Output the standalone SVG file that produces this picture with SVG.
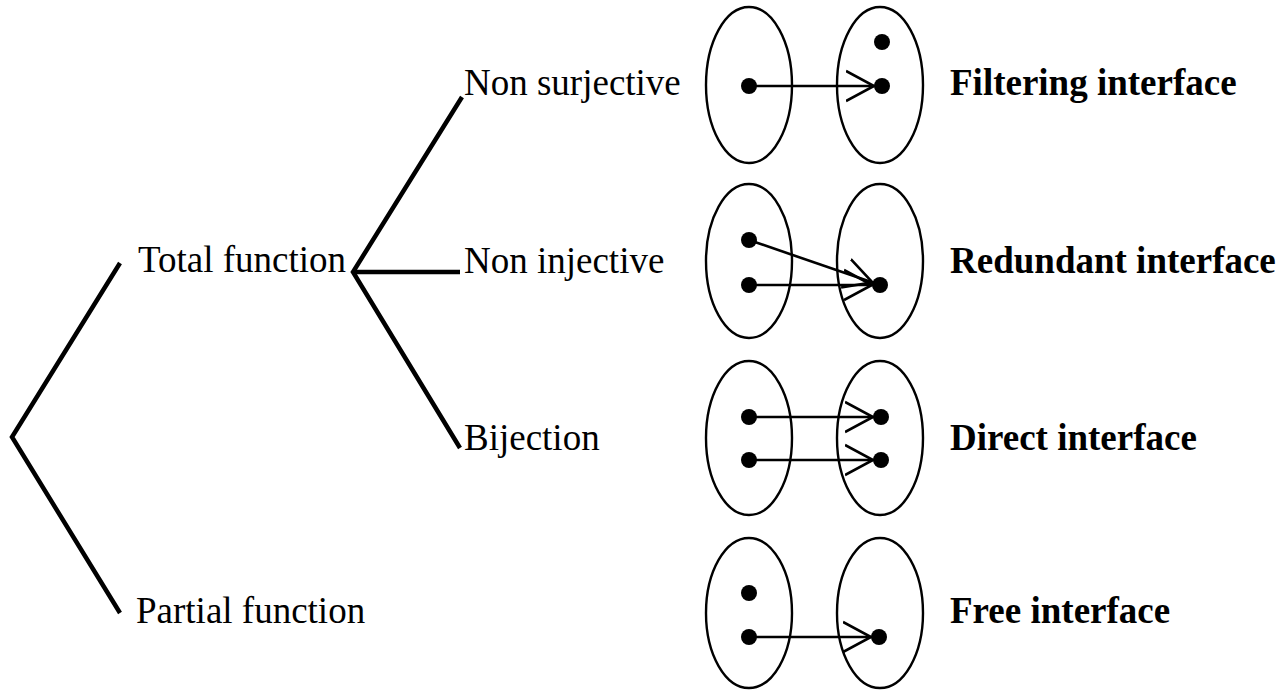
<svg xmlns="http://www.w3.org/2000/svg" width="1287" height="692" viewBox="0 0 1287 692">
  <style>
    .lbl { font-family: "Liberation Serif", "Times New Roman", serif; font-size: 37px; fill: #000; }
    .bold { font-weight: bold; }
    .tree { stroke: #000; stroke-width: 4.5; fill: none; stroke-linecap: butt; stroke-linejoin: miter; }
    .set { stroke: #000; stroke-width: 2.4; fill: none; }
    .map { stroke: #000; stroke-width: 2.6; fill: none; marker-end: url(#chev); }
    .pt { fill: #000; }
  </style>
  <defs>
    <marker id="chev" markerUnits="userSpaceOnUse" markerWidth="42" markerHeight="36" viewBox="0 0 42 36" refX="36" refY="18" orient="auto">
      <path d="M0,3 L28,18 L0,33" fill="none" stroke="#000" stroke-width="2.6"/>
    </marker>
  </defs>
  <rect width="1287" height="692" fill="#fff"/>

  <!-- classification tree -->
  <g id="connectors">
    <path class="tree" d="M120,263 L12,437 L120,613"/>
    <path class="tree" d="M462,97 L353,272 L460,448"/>
    <path class="tree" d="M353,272 L460,272"/>
  </g>

  <g id="total-function"><text class="lbl" x="138" y="272">Total function</text></g>
  <g id="partial-function"><text class="lbl" x="136" y="623">Partial function</text></g>
  <g id="non-surjective"><text class="lbl" x="464" y="95">Non surjective</text></g>
  <g id="non-injective"><text class="lbl" x="464" y="273">Non injective</text></g>
  <g id="bijection"><text class="lbl" x="464" y="450">Bijection</text></g>

  <!-- mapping pictograms -->
  <g id="filtering">
    <ellipse class="set" cx="749" cy="85" rx="43" ry="78"/>
    <ellipse class="set" cx="880" cy="85" rx="43" ry="78"/>
    <line class="map" x1="749" y1="86" x2="882" y2="86"/>
    <circle class="pt" cx="749" cy="86" r="8"/>
    <circle class="pt" cx="882" cy="42" r="8"/>
    <circle class="pt" cx="882" cy="86" r="8"/>
    <text class="lbl bold" x="950" y="95">Filtering interface</text>
  </g>

  <g id="redundant">
    <ellipse class="set" cx="749" cy="261" rx="43" ry="77"/>
    <ellipse class="set" cx="880" cy="261" rx="43" ry="77"/>
    <line class="map" x1="749" y1="240" x2="880" y2="285"/>
    <line class="map" x1="749" y1="285" x2="880" y2="285"/>
    <circle class="pt" cx="749" cy="240" r="8"/>
    <circle class="pt" cx="749" cy="285" r="8"/>
    <circle class="pt" cx="880" cy="285" r="8"/>
    <text class="lbl bold" x="950" y="273">Redundant interface</text>
  </g>

  <g id="direct">
    <ellipse class="set" cx="749" cy="438" rx="43" ry="77"/>
    <ellipse class="set" cx="880" cy="438" rx="43" ry="77"/>
    <line class="map" x1="749" y1="417" x2="881" y2="417"/>
    <line class="map" x1="749" y1="460" x2="881" y2="460"/>
    <circle class="pt" cx="749" cy="417" r="8"/>
    <circle class="pt" cx="749" cy="460" r="8"/>
    <circle class="pt" cx="881" cy="417" r="8"/>
    <circle class="pt" cx="881" cy="460" r="8"/>
    <text class="lbl bold" x="950" y="450">Direct interface</text>
  </g>

  <g id="free">
    <ellipse class="set" cx="749" cy="613" rx="43" ry="75"/>
    <ellipse class="set" cx="880" cy="613" rx="43" ry="75"/>
    <line class="map" x1="749" y1="637" x2="879" y2="637"/>
    <circle class="pt" cx="749" cy="593" r="8"/>
    <circle class="pt" cx="749" cy="637" r="8"/>
    <circle class="pt" cx="879" cy="637" r="8"/>
    <text class="lbl bold" x="950" y="623">Free interface</text>
  </g>
</svg>
